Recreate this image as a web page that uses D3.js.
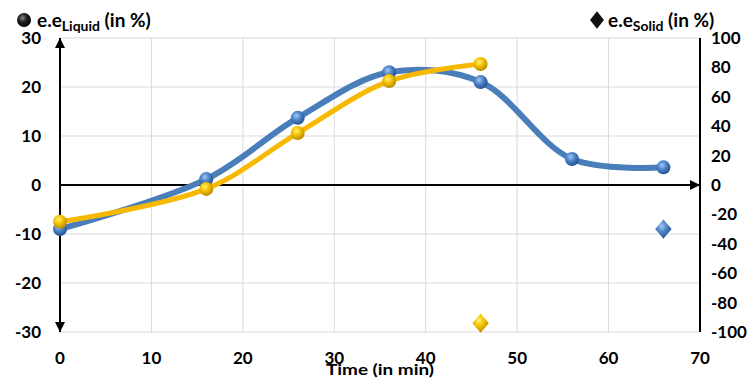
<!DOCTYPE html>
<html><head><meta charset="utf-8">
<script src="https://cdn.jsdelivr.net/npm/d3@7"></script>
<style>body{margin:0;background:#fff;} svg{display:block;}</style>
</head><body>
<svg id="c" width="755" height="379"></svg>
<script>
const timeBlue = [0, 16, 26, 36, 46, 56, 66];
const liquidBlue = [-9, 1.2, 13.7, 23, 21, 5.3, 3.6];
const timeYellow = [0, 16, 26, 36, 46];
const liquidYellow = [-7.5, -0.8, 10.6, 21.2, 24.7];
const solidTime = [46, 66];
const solidValues = [-94, -30];
const solidColors = ["yellow", "blue"];
const xTicks = [0, 10, 20, 30, 40, 50, 60, 70];
const yLeftTicks = [-30, -20, -10, 0, 10, 20, 30];
const yRightTicks = [-100, -80, -60, -40, -20, 0, 20, 40, 60, 80, 100];

const svg = d3.select("#c");
const L = 60, R = 700, T = 38, B = 332;
const x = d3.scaleLinear().domain([0, 70]).range([L, R]);
const yL = d3.scaleLinear().domain([-30, 30]).range([B, T]);
const yR = d3.scaleLinear().domain([-100, 100]).range([B, T]);
const font = "Lato, 'DejaVu Sans', sans-serif";

const defs = svg.append("defs");
function sphere(id, light, mid, dark) {
  const g = defs.append("radialGradient").attr("id", id).attr("cx", "40%").attr("cy", "35%").attr("r", "65%");
  g.append("stop").attr("offset", "0%").attr("stop-color", light);
  g.append("stop").attr("offset", "45%").attr("stop-color", mid);
  g.append("stop").attr("offset", "100%").attr("stop-color", dark);
}
sphere("gBlue", "#a9c8ef", "#4f86cc", "#24508f");
sphere("gYellow", "#fff27a", "#f6c300", "#b98a00");
sphere("gBlack", "#888", "#222", "#000");
const solidGrad = {yellow: "url(#gYellow)", blue: "url(#gBlue)"};

// gridlines
const grid = svg.append("g");
grid.selectAll("line.v").data(xTicks.slice(1, -1)).join("line")
  .attr("x1", d => x(d)).attr("x2", d => x(d)).attr("y1", T).attr("y2", B)
  .attr("stroke", "#d9d9d9").attr("stroke-width", 1);
grid.selectAll("line.h").data(yLeftTicks).join("line")
  .attr("x1", L).attr("x2", R).attr("y1", d => yL(d)).attr("y2", d => yL(d))
  .attr("stroke", "#d9d9d9").attr("stroke-width", 1);

// axes lines
defs.append("marker").attr("id", "arr").attr("viewBox", "0 0 10 10").attr("refX", 10).attr("refY", 5)
  .attr("markerWidth", 5).attr("markerHeight", 5).attr("orient", "auto-start-reverse")
  .attr("markerUnits", "strokeWidth")
  .append("path").attr("d", "M0,0 L10,5 L0,10 z").attr("fill", "#000");
svg.append("line").attr("x1", L).attr("x2", L).attr("y1", B).attr("y2", T)
  .attr("stroke", "#000").attr("stroke-width", 2)
  .attr("marker-start", "url(#arr)").attr("marker-end", "url(#arr)");
svg.append("line").attr("x1", L).attr("x2", R).attr("y1", yL(0)).attr("y2", yL(0))
  .attr("stroke", "#000").attr("stroke-width", 2).attr("marker-end", "url(#arr)");
svg.append("line").attr("x1", R).attr("x2", R).attr("y1", T).attr("y2", B)
  .attr("stroke", "#000").attr("stroke-width", 2);

// tick labels
svg.append("g").selectAll("text").data(xTicks).join("text")
  .attr("x", d => x(d)).attr("y", 364).attr("text-anchor", "middle")
  .attr("font-family", font).attr("font-weight", "bold").attr("font-size", 17).text(d => d);
svg.append("g").selectAll("text").data(yLeftTicks).join("text")
  .attr("x", 41).attr("y", d => yL(d) + 6).attr("text-anchor", "end")
  .attr("font-family", font).attr("font-weight", "bold").attr("font-size", 17).text(d => d);
svg.append("g").selectAll("text").data(yRightTicks).join("text")
  .attr("x", 711).attr("y", d => yR(d) + 6).attr("text-anchor", "start")
  .attr("font-family", font).attr("font-weight", "bold").attr("font-size", 17).text(d => d);

// x title
svg.append("text").attr("x", 380).attr("y", 375).attr("text-anchor", "middle")
  .attr("font-family", font).attr("font-weight", "bold").attr("font-size", 16)
  .attr("textLength", 108).attr("lengthAdjust", "spacingAndGlyphs").text("Time (in min)");

// legends
svg.append("circle").attr("cx", 24).attr("cy", 20).attr("r", 7).attr("fill", "url(#gBlack)");
const t1 = svg.append("text").attr("x", 37).attr("y", 27).attr("font-family", font).attr("font-weight", "bold").attr("font-size", 19);
t1.append("tspan").text("e.e");
t1.append("tspan").attr("font-size", 14).attr("dy", 4).text("Liquid");
t1.append("tspan").attr("dy", -4).text(" (in %)");
svg.append("path").attr("d", d3.symbol(d3.symbolDiamond, 140)()).attr("transform", "translate(597,20) scale(1.1,0.8)").attr("fill", "#111");
const t2 = svg.append("text").attr("x", 608).attr("y", 27).attr("font-family", font).attr("font-weight", "bold").attr("font-size", 19);
t2.append("tspan").text("e.e");
t2.append("tspan").attr("font-size", 14).attr("dy", 4).text("Solid");
t2.append("tspan").attr("dy", -4).text(" (in %)");

// lines
const line = d3.line().x(d => x(d[0])).y(d => yL(d[1])).curve(d3.curveCatmullRom.alpha(0.5));
const blueData = timeBlue.map((t, i) => [t, liquidBlue[i]]);
const yellowData = timeYellow.map((t, i) => [t, liquidYellow[i]]);
svg.append("path").datum(blueData).attr("d", line).attr("fill", "none")
  .attr("stroke", "#4a7ebb").attr("stroke-width", 6).attr("stroke-linecap", "round");
svg.append("path").datum(yellowData).attr("d", line).attr("fill", "none")
  .attr("stroke", "#f7b900").attr("stroke-width", 5).attr("stroke-linecap", "round");

svg.append("g").selectAll("circle").data(blueData).join("circle")
  .attr("cx", d => x(d[0])).attr("cy", d => yL(d[1])).attr("r", 7).attr("fill", "url(#gBlue)");
svg.append("g").selectAll("circle").data(yellowData).join("circle")
  .attr("cx", d => x(d[0])).attr("cy", d => yL(d[1])).attr("r", 7).attr("fill", "url(#gYellow)");

// solid diamonds
svg.append("g").selectAll("path").data(solidTime.map((t, i) => [t, solidValues[i], solidColors[i]])).join("path")
  .attr("d", d3.symbol(d3.symbolDiamond, 150)())
  .attr("transform", d => `translate(${x(d[0])},${yR(d[1])}) scale(1.25,0.85)`)
  .attr("fill", d => solidGrad[d[2]]);
</script>
</body></html>
